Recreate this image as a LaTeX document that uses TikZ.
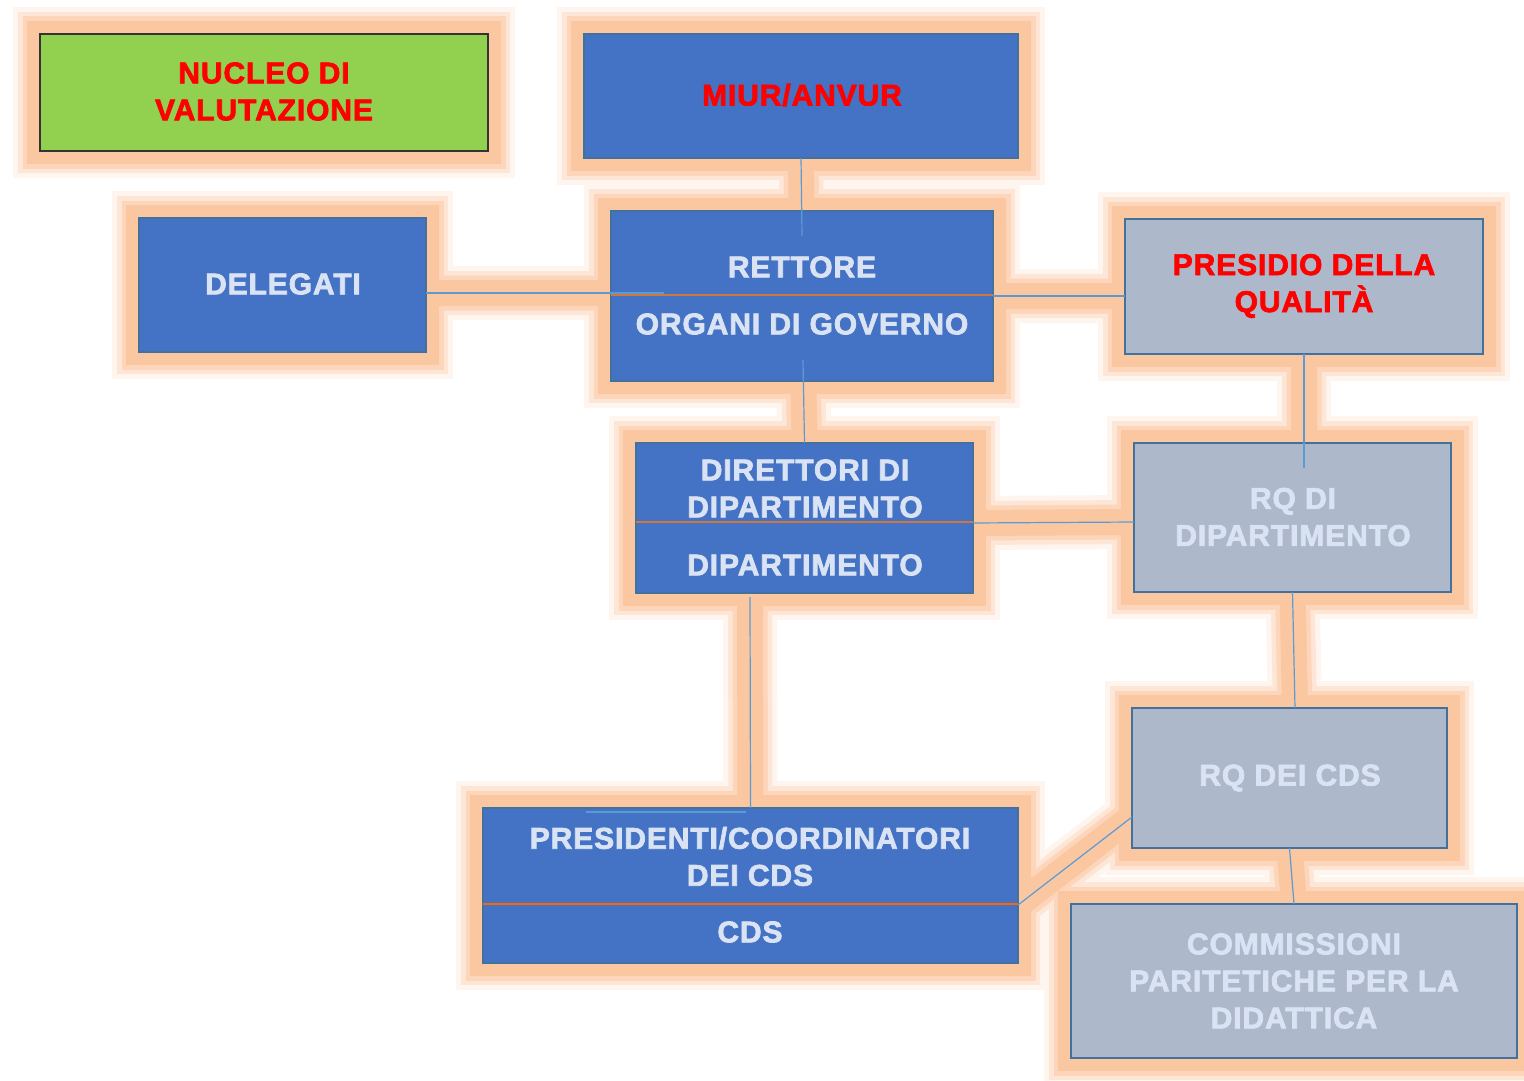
\documentclass[tikz,border=0pt]{standalone}
\usepackage{fontspec}
\setmainfont{Liberation Sans}[BoldFeatures={FakeBold=2.4, LetterSpace=3}]
\usetikzlibrary{calc}
\pgfdeclarelayer{bg}
\pgfsetlayers{bg,main}
\definecolor{boxblue}{HTML}{4472C4}
\definecolor{boxgray}{HTML}{ADB9CA}
\definecolor{boxgreen}{HTML}{92D050}
\definecolor{edgeblue}{HTML}{41719C}
\definecolor{txtlight}{HTML}{DAE3F3}
\definecolor{txtred}{HTML}{FF0000}
\definecolor{divorange}{HTML}{D0783A}
\definecolor{connblue}{HTML}{5B9BD5}
\definecolor{glowA}{HTML}{FEF5EE}
\definecolor{glowB}{HTML}{FDE6D6}
\definecolor{glowC}{HTML}{FCD5BA}
\definecolor{glowD}{HTML}{FBC7A0}
\tikzset{
  boxbase/.style={rectangle, inner sep=0pt, outer sep=0pt},
  bluebox/.style={boxbase, fill=boxblue, draw=edgeblue, line width=1.5pt},
  graybox/.style={boxbase, fill=boxgray, draw=edgeblue, line width=2.5pt},
  greenbox/.style={boxbase, fill=boxgreen, draw=black!80, line width=2.5pt},
  lbl/.style={font=\bfseries\fontsize{30}{37}\selectfont, align=center, inner sep=0pt, text=txtlight},
  redlbl/.style={lbl, text=txtred},
  divider/.style={draw=divorange, line width=1.5pt},
  conn/.style={draw=connblue, line width=1.2pt},
}
\newcommand\glowpaths[2]{%
  \foreach \n in {nucleo,miur,deleg,rett,pres,dir,rqd,rqc,presid,comm}
    \draw[line width=#1, draw=#2] (\n.north west) rectangle (\n.south east);
  \draw[line width=#1, draw=#2, line cap=butt]
    (k1a) -- (k1b)  (k2a) -- (k2b)  (k3a) -- (k3b)  (k4a) -- (k4b)
    (k5a) -- (k5b)  (k6a) -- (k6b)  (k7a) -- (k7b)  (k8a) -- (k8b)
    (k9a) -- (k9b)  (k10a) -- (k10b);
}
\begin{document}
\begin{tikzpicture}[x=1pt, y=-1pt]
\useasboundingbox (0,0) rectangle (1524,1081);
% boxes
\node[greenbox, minimum width=448pt, minimum height=117pt] (nucleo) at (264,92.5) {};
\node[bluebox, minimum width=434pt, minimum height=124pt] (miur) at (801,96) {};
\node[bluebox, minimum width=287pt, minimum height=134pt] (deleg) at (282.5,285) {};
\node[bluebox, minimum width=382pt, minimum height=170pt] (rett) at (802,296) {};
\node[graybox, minimum width=358pt, minimum height=135pt] (pres) at (1304,286.5) {};
\node[bluebox, minimum width=337pt, minimum height=150pt] (dir) at (804.5,518) {};
\node[graybox, minimum width=317pt, minimum height=149pt] (rqd) at (1292.5,517.5) {};
\node[graybox, minimum width=315pt, minimum height=140pt] (rqc) at (1289.5,778) {};
\node[bluebox, minimum width=535pt, minimum height=155pt] (presid) at (750.5,885.5) {};
\node[graybox, minimum width=446pt, minimum height=154pt] (comm) at (1294,981) {};
% dividers
\draw[divider] (rett.west |- 0,295) -- (rett.east |- 0,295);
\draw[divider] (dir.west |- 0,522) -- (dir.east |- 0,522);
\draw[divider, draw=orange!80!red] (presid.west |- 0,904) -- (presid.east |- 0,904);
% connector end points
\coordinate (k1a) at (miur.south);
\coordinate (k1b) at ($(miur.south)+(1,78)$);
\coordinate (k2a) at (deleg.east |- 0,293);
\coordinate (k2b) at (664,293);
\coordinate (k3a) at (rett.east);
\coordinate (k3b) at (pres.west |- rett.east);
\coordinate (k4a) at ($(rett.south)+(1,-21)$);
\coordinate (k4b) at (dir.north);
\coordinate (k5a) at (pres.south);
\coordinate (k5b) at ($(pres.south)+(0,114)$);
\coordinate (k6a) at ($(dir.east)+(0,5)$);
\coordinate (k6b) at ($(rqd.west)+(0,4.5)$);
\coordinate (k7a) at ($(dir.south)+(-54.5,4)$);
\coordinate (k7b) at (presid.north);
\coordinate (k8a) at (rqd.south);
\coordinate (k8b) at ($(rqc.north)+(5.5,0)$);
\coordinate (k9a) at ($(presid.east)+(0,19.5)$);
\coordinate (k9b) at ($(rqc.west)+(0,39)$);
\coordinate (k10a) at (rqc.south);
\coordinate (k10b) at (comm.north);
% glow on the background layer
\begin{pgfonlayer}{bg}
  \fill[white] (0,0) rectangle (1524,1081);
  \glowpaths{54pt}{glowA}
  \glowpaths{44pt}{glowB}
  \glowpaths{35pt}{glowC}
  \glowpaths{26pt}{glowD}
\end{pgfonlayer}
% connectors
\draw[conn] (k1a) -- (k1b);
\draw[conn] (k2a) -- (k2b);
\draw[conn] (k3a) -- (k3b);
\draw[conn] (k4a) -- (k4b);
\draw[conn] (k5a) -- (k5b);
\draw[conn] (k6a) -- (k6b);
\draw[conn] (k7a) -- (k7b);
\draw[conn] ($(presid.north)+(-165,4)$) -- ($(presid.north)+(-5,4)$);
\draw[conn] (k8a) -- (k8b);
\draw[conn] (k9a) -- (k9b);
\draw[conn] (k10a) -- (k10b);
% labels
\node[redlbl] (tnucleo) at (264,91.5) {NUCLEO DI\\VALUTAZIONE};
\node[redlbl] (tmiur) at (802,95) {MIUR/ANVUR};
\node[lbl] (tdeleg) at (283,284) {DELEGATI};
\node[lbl] (trett) at (802,267) {RETTORE};
\node[lbl] (torg) at (802,324) {ORGANI DI GOVERNO};
\node[redlbl] (tpres) at (1304,286) {PRESIDIO DELLA\\QUALITÀ};
\node[lbl] (tdir) at (805,488.5) {DIRETTORI DI\\DIPARTIMENTO};
\node[lbl] (tdip) at (805,565) {DIPARTIMENTO};
\node[lbl] (trqd) at (1293,517) {RQ DI\\DIPARTIMENTO};
\node[lbl] (trqc) at (1290,778) {RQ DEI CDS};
\node[lbl] (tpresid) at (750,856.5) {PRESIDENTI/COORDINATORI\\DEI CDS};
\node[lbl] (tcds) at (750,932) {CDS};
\node[lbl] (tcomm) at (1294,981) {COMMISSIONI\\PARITETICHE PER LA\\DIDATTICA};
\end{tikzpicture}
\end{document}
